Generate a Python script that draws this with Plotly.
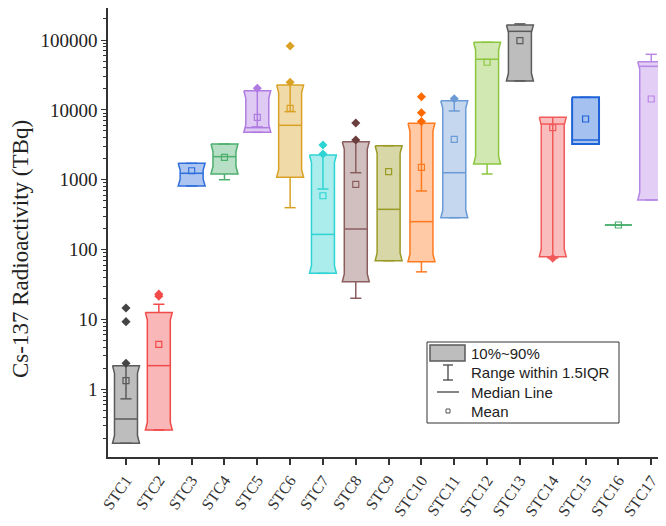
import math
import plotly.graph_objects as go

# ---------------- data ----------------
categories = ["STC1", "STC2", "STC3", "STC4", "STC5", "STC6", "STC7", "STC8", "STC9",
              "STC10", "STC11", "STC12", "STC13", "STC14", "STC15", "STC16", "STC17"]
p10 = [0.169, 0.261, 813, 1208, 4770, 1083, 45.7, 34.7, 69.3, 67, 286, 1680, 25900, 79, 3245, 225, 513]
p90 = [2.18, 12.6, 1718, 3245, 18800, 22700, 2260, 3500, 3070, 6420, 13500, 92700, 164000, 7820, 15100, 225, 48900]
median = [0.376, 2.18, 1236, 2140, 5560, 6010, 165, 197, 377, 251, 1260, 53000, 133000, 6270, 3700, 225, 42000]
mean = [1.33, 4.41, 1345, 2095, 7820, 10500, 590, 860, 1303, 1506, 3790, 48000, 97800, 5560, 7400, 225, 14300]
lower_fence = [0.169, 0.261, 813, 1000, 4770, 398, 45.7, 20.1, 69.3, 48, 286, 1208, 25900, 79, 3245, 225, 513]
upper_fence = [0.73, 16.5, 1718, 3245, 5700, 9420, 736, 1260, 3070, 690, 9640, 92700, 170000, 76, 15100, 225, 62400]
outliers = [[2.36, 9.3, 14.6], [21.5, 23], [], [], [20400], [24800, 82000], [2335, 3140],
            [3700, 6490], [], [6800, 9100, 15400], [14400], [], [], [75], [], [], []]
ytick_vals = [1, 10, 100, 1000, 10000, 100000]
ytick_text = ["1", "10", "100", "1000", "10000", "100000"]

# ---------------- style ----------------
line_colors = ["#5a5a5a", "#f24a4a", "#2f6fdc", "#4caf6e", "#b07be0", "#d9a226", "#2ed3d3",
               "#8b5e5e", "#9a9a26", "#ff7a1f", "#6b9bd6", "#8cc63f", "#5a5a5a", "#f25a5a",
               "#1f63d9", "#4caf6e", "#b886e6"]
outlier_colors = ["#444444", "#f24a4a", "#2f6fdc", "#4caf6e", "#b07be0", "#d9a226", "#2ed3d3",
                  "#6b3e3e", "#9a9a26", "#ff6a00", "#6b9bd6", "#8cc63f", "#5a5a5a", "#f25a5a",
                  "#1f63d9", "#4caf6e", "#b886e6"]
notched = [True] * 14 + [False, True, True]
HALF_W = 0.41
INNER_W = 0.35
CAP_W = 0.17
TAPER = 0.11


def rgba(hexc, a):
    h = hexc.lstrip("#")
    r, g, b = int(h[0:2], 16), int(h[2:4], 16), int(h[4:6], 16)
    return f"rgba({r},{g},{b},{a})"


fig = go.Figure()

for i, name in enumerate(categories):
    c = i + 1
    col = line_colors[i]
    lo, hi = math.log10(p10[i]), math.log10(p90[i])
    t = min(TAPER, 0.3 * (hi - lo)) if notched[i] else 0.0
    wi = INNER_W if notched[i] else HALF_W
    ys_log = [hi, hi, hi - t, lo + t, lo, lo, lo + t, hi - t, hi]
    xs = [c - HALF_W, c + HALF_W, c + wi, c + wi, c + HALF_W, c - HALF_W, c - wi, c - wi, c - HALF_W]
    fig.add_trace(go.Scatter(
        x=xs, y=[10 ** v for v in ys_log], mode="lines", fill="toself",
        fillcolor=rgba(col, 0.4), line=dict(color=col, width=2 if not notched[i] else 1.5),
        hoverinfo="skip", showlegend=False))

    # whiskers
    wx = [c, c, None, c, c, None, c - CAP_W, c + CAP_W, None, c - CAP_W, c + CAP_W]
    wy = [p10[i], lower_fence[i], None, p90[i], upper_fence[i], None,
          lower_fence[i], lower_fence[i], None, upper_fence[i], upper_fence[i]]
    fig.add_trace(go.Scatter(x=wx, y=wy, mode="lines", line=dict(color=col, width=1.5),
                             hoverinfo="skip", showlegend=False))

    # median line (width following box outline)
    lm = math.log10(median[i])
    if t > 0 and lo + t <= lm <= hi - t:
        hw = wi
    elif t > 0 and lm > hi - t:
        hw = wi + (HALF_W - wi) * (lm - (hi - t)) / t
    elif t > 0 and lm < lo + t:
        hw = wi + (HALF_W - wi) * ((lo + t) - lm) / t
    else:
        hw = HALF_W
    fig.add_trace(go.Scatter(x=[c - hw, c + hw], y=[median[i], median[i]], mode="lines",
                             line=dict(color=col, width=1.5), hoverinfo="skip", showlegend=False))

    # mean
    fig.add_trace(go.Scatter(x=[c], y=[mean[i]], mode="markers",
                             marker=dict(symbol="square-open", size=6, color=col, line=dict(width=1.2)),
                             hoverinfo="skip", showlegend=False))

    # outliers
    if outliers[i]:
        fig.add_trace(go.Scatter(x=[c] * len(outliers[i]), y=outliers[i], mode="markers",
                                 marker=dict(symbol="diamond", size=7, color=outlier_colors[i]),
                                 hoverinfo="skip", showlegend=False))

# ---------------- layout ----------------
# page body has an 8px margin; target plot area on screen: x 108..666, y 8..457
OFF = 8
SL, ST, SB = 108, 8, 457
W, H = 666 - OFF, 526 - OFF
PW, PH = 666 - SL, SB - ST
L = SL - OFF
T = ST - OFF
B = H - T - PH


def PX(px):
    return (px - SL) / PW


def PY(py):
    return (SB - py) / PH


serif = "Liberation Serif, Times New Roman, serif"
sans = "Liberation Sans, Arial, sans-serif"

minor_vals = [m * 10 ** k for k in range(-1, 6) for m in range(2, 10)]

fig.update_layout(
    width=W, height=H, margin=dict(l=L, r=0, t=T, b=B, pad=0),
    paper_bgcolor="white", plot_bgcolor="white", showlegend=False,
    xaxis=dict(range=[0.452, 17.45], tickmode="array", tickvals=list(range(1, 18)),
               ticktext=categories, tickangle=-55, ticks="outside", ticklen=6, tickwidth=1.5,
               tickcolor="#333", showline=True, linecolor="#333", linewidth=1.5, mirror=True,
               showgrid=False, zeroline=False, automargin=False,
               tickfont=dict(family=serif, size=16, color="#333")),
    yaxis=dict(type="log", range=[-0.969, 5.458], tickmode="array", tickvals=ytick_vals,
               ticktext=ytick_text, ticks="outside", ticklen=5, tickwidth=1.2, tickcolor="#333",
               showline=True, linecolor="#333", linewidth=1.5, showgrid=False, zeroline=False,
               automargin=False,
               tickfont=dict(family=serif, size=19, color="#222"),
               minor=dict(ticks="outside", ticklen=3, tickwidth=1, tickcolor="#333",
                          tickmode="array", tickvals=minor_vals, showgrid=False)),
)

fig.add_annotation(text="Cs-137 Radioactivity (TBq)", xref="paper", yref="paper",
                   x=PX(20), y=PY(249), xanchor="center", yanchor="middle", textangle=-90,
                   showarrow=False, font=dict(family=serif, size=23, color="#222"))

# ---------------- legend (drawn) ----------------
shapes = []
shapes.append(dict(type="rect", xref="paper", yref="paper", x0=PX(427), x1=PX(619), y0=PY(423),
                   y1=PY(342), line=dict(color="#333", width=1), fillcolor="white", layer="above"))
shapes.append(dict(type="rect", xref="paper", yref="paper", x0=PX(430), x1=PX(465), y0=PY(361),
                   y1=PY(345), line=dict(color="#5a5a5a", width=1.5), fillcolor="#bdbdbd", layer="above"))
shapes.append(dict(type="line", xref="paper", yref="paper", x0=PX(448), x1=PX(448), y0=PY(380),
                   y1=PY(365), line=dict(color="#444", width=1.3), layer="above"))
shapes.append(dict(type="line", xref="paper", yref="paper", x0=PX(443), x1=PX(453), y0=PY(365),
                   y1=PY(365), line=dict(color="#444", width=1.3), layer="above"))
shapes.append(dict(type="line", xref="paper", yref="paper", x0=PX(443), x1=PX(453), y0=PY(380),
                   y1=PY(380), line=dict(color="#444", width=1.3), layer="above"))
shapes.append(dict(type="line", xref="paper", yref="paper", x0=PX(437), x1=PX(459), y0=PY(392),
                   y1=PY(392), line=dict(color="#444", width=1.3), layer="above"))
shapes.append(dict(type="rect", xref="paper", yref="paper", x0=PX(446), x1=PX(450), y0=PY(413),
                   y1=PY(409), line=dict(color="#555", width=1), fillcolor="white", layer="above"))
fig.update_layout(shapes=shapes)

legend_labels = ["10%~90%", "Range within 1.5IQR", "Median Line", "Mean"]
legend_rows = [353, 372.5, 392, 411]
for lab, ry in zip(legend_labels, legend_rows):
    fig.add_annotation(text=lab, xref="paper", yref="paper", x=PX(469), y=PY(ry),
                       xanchor="left", yanchor="middle", showarrow=False,
                       font=dict(family=sans, size=15, color="#222"))

fig.write_html("out.html")
